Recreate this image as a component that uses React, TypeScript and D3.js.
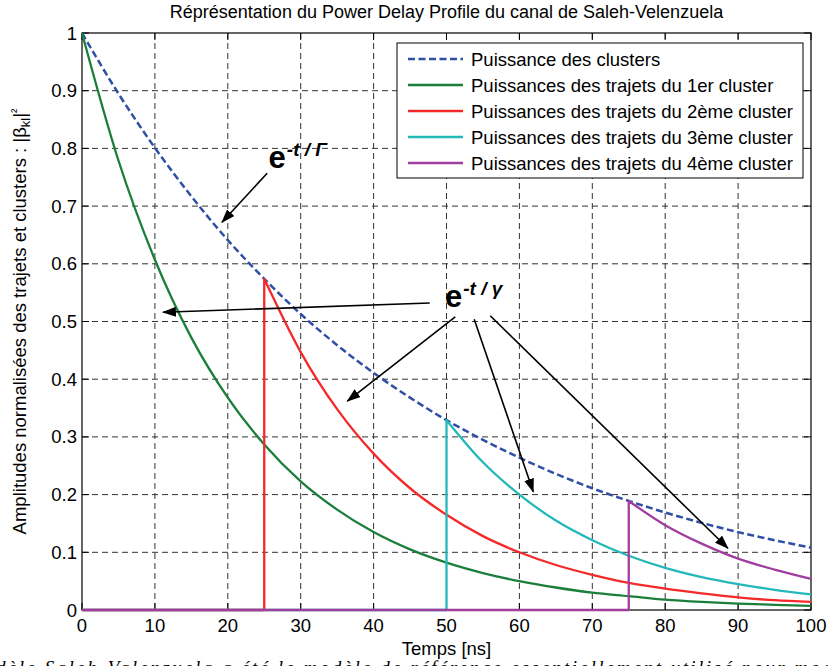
import React from 'react';
import * as d3 from 'd3';

// ---------- data ----------
const T_CLUSTER = [0, 5, 10, 15, 20, 25, 30, 35, 40, 45, 50, 55, 60, 65, 70, 75, 80, 85, 90, 95, 100];
const P_CLUSTER = [1, 0.895, 0.801, 0.717, 0.641, 0.574, 0.513, 0.459, 0.411, 0.368, 0.329, 0.295, 0.264, 0.236, 0.211, 0.189, 0.169, 0.151, 0.135, 0.121, 0.108];

const T_PATH1 = [0, 5, 10, 15, 20, 25, 30, 35, 40, 45, 50, 55, 60, 65, 70, 75, 80, 85, 90, 95, 100];
const P_PATH1 = [1, 0.779, 0.607, 0.472, 0.368, 0.287, 0.223, 0.174, 0.135, 0.105, 0.082, 0.064, 0.05, 0.039, 0.03, 0.024, 0.018, 0.014, 0.011, 0.009, 0.007];

const T_PATH2 = [25, 30, 35, 40, 45, 50, 55, 60, 65, 70, 75, 80, 85, 90, 95, 100];
const P_PATH2 = [0.574, 0.447, 0.348, 0.271, 0.211, 0.165, 0.128, 0.1, 0.078, 0.061, 0.047, 0.037, 0.029, 0.022, 0.017, 0.014];

const T_PATH3 = [50, 55, 60, 65, 70, 75, 80, 85, 90, 95, 100];
const P_PATH3 = [0.329, 0.256, 0.2, 0.155, 0.121, 0.094, 0.073, 0.057, 0.045, 0.035, 0.027];

const T_PATH4 = [75, 80, 85, 90, 95, 100];
const P_PATH4 = [0.189, 0.147, 0.115, 0.089, 0.07, 0.054];

const X_TICKS = [0, 10, 20, 30, 40, 50, 60, 70, 80, 90, 100];
const Y_TICKS = [0, 0.1, 0.2, 0.3, 0.4, 0.5, 0.6, 0.7, 0.8, 0.9, 1];
const Y_TICK_LABELS = ['0', '0.1', '0.2', '0.3', '0.4', '0.5', '0.6', '0.7', '0.8', '0.9', '1'];

const LEGEND_LABELS = [
  'Puissance des clusters',
  'Puissances des trajets du 1er cluster',
  'Puissances des trajets du 2ème cluster',
  'Puissances des trajets du 3ème cluster',
  'Puissances des trajets du 4ème cluster',
];

const TITLE = 'Réprésentation du Power Delay Profile du canal de Saleh-Velenzuela';
const X_LABEL = 'Temps [ns]';
const Y_LABEL = 'Amplitudes normalisées des trajets et clusters : |β';
const CAPTION = "dèle Saleh-Valenzuela a été le modèle de référence essentiellement utilisé pour mod";

// annotation anchors in data units
const ANN_GAMMA_CAP = { x: 25.6, y: 0.766 };
const ARROW_GAMMA_CAP = [{ x1: 25.4, y1: 0.757, x2: 19.2, y2: 0.672 }];
const ANN_GAMMA = { x: 49.8, y: 0.525 };
const ARROWS_GAMMA = [
  { x1: 47.7, y1: 0.532, x2: 11.1, y2: 0.516 },
  { x1: 51.2, y1: 0.508, x2: 36.4, y2: 0.362 },
  { x1: 53.8, y1: 0.504, x2: 61.9, y2: 0.205 },
  { x1: 56.0, y1: 0.51, x2: 88.6, y2: 0.107 },
];

// ---------- layout & style ----------
const W = 828;
const H = 666;
const L = 82, R = 811, T = 33, B = 610;
const FONT = '"Liberation Sans", Arial, Helvetica, sans-serif';
const COLORS = ['#2f4fa6', '#1b7f3b', '#f42a2a', '#24b8b8', '#a03ea0'];

export default function App() {
  const x = d3.scaleLinear().domain([0, 100]).range([L, R]);
  const y = d3.scaleLinear().domain([0, 1]).range([B, T]);

  const lin = d3.line<[number, number]>().x(d => x(d[0])).y(d => y(d[1]));
  const mono = d3.line<[number, number]>().x(d => x(d[0])).y(d => y(d[1])).curve(d3.curveMonotoneX);

  const zip = (ts: number[], vs: number[]) => ts.map((t, i) => [t, vs[i]] as [number, number]);
  const withOnset = (ts: number[], vs: number[]) => {
    const pre = lin([[0, 0], [ts[0], 0]]) || '';
    const dec = (mono(zip(ts, vs)) || '').replace(/^M/, 'L');
    return pre + dec;
  };

  const paths = [
    mono(zip(T_CLUSTER, P_CLUSTER)) || '',
    mono(zip(T_PATH1, P_PATH1)) || '',
    withOnset(T_PATH2, P_PATH2),
    withOnset(T_PATH3, P_PATH3),
    withOnset(T_PATH4, P_PATH4),
  ];

  const tickLen = 7;
  const legX = 397, legY = 43, legW = 406, legH = 135;
  const rowY = [59, 85, 111, 137, 163];

  return (
    <svg width={W} height={H} style={{ position: 'absolute', left: 0, top: 0, background: '#fff' }} fontFamily={FONT}>
      <defs>
        <marker id="ah" viewBox="0 0 14 10" refX="13" refY="5" markerWidth="14" markerHeight="10" markerUnits="userSpaceOnUse" orient="auto">
          <path d="M0,0 L14,5 L0,10 z" fill="#000" />
        </marker>
      </defs>
      <rect x={0} y={0} width={W} height={H} fill="#fff" />

      {/* grid */}
      {X_TICKS.filter(t => t > 0 && t < 100).map(t => (
        <line key={'gx' + t} x1={x(t)} x2={x(t)} y1={T} y2={B} stroke="#333" strokeWidth={1} strokeDasharray="6,4" />
      ))}
      {Y_TICKS.filter(t => t > 0 && t < 1).map(t => (
        <line key={'gy' + t} x1={L} x2={R} y1={y(t)} y2={y(t)} stroke="#333" strokeWidth={1} strokeDasharray="6,4" />
      ))}

      {/* ticks */}
      {X_TICKS.map(t => (
        <g key={'tx' + t}>
          <line x1={x(t)} x2={x(t)} y1={B} y2={B - tickLen} stroke="#000" />
          <line x1={x(t)} x2={x(t)} y1={T} y2={T + tickLen} stroke="#000" />
          <text x={x(t)} y={632} fontSize={18.5} textAnchor="middle" fill="#000">{t}</text>
        </g>
      ))}
      {Y_TICKS.map((t, i) => (
        <g key={'ty' + t}>
          <line x1={L} x2={L + tickLen} y1={y(t)} y2={y(t)} stroke="#000" />
          <line x1={R} x2={R - tickLen} y1={y(t)} y2={y(t)} stroke="#000" />
          <text x={77} y={y(t) + 6.5} fontSize={18.5} textAnchor="end" fill="#000">{Y_TICK_LABELS[i]}</text>
        </g>
      ))}

      {/* frame */}
      <rect x={L} y={T} width={R - L} height={B - T} fill="none" stroke="#000" strokeWidth={1.2} />

      {/* data */}
      {paths.map((p, i) => (
        <path key={'p' + i} d={p} fill="none" stroke={COLORS[i]} strokeWidth={i === 0 ? 2.5 : 2.3}
          strokeDasharray={i === 0 ? '7,3.5' : undefined} strokeLinejoin="round" />
      ))}

      {/* annotations */}
      {[...ARROW_GAMMA_CAP, ...ARROWS_GAMMA].map((a, i) => (
        <line key={'a' + i} x1={x(a.x1)} y1={y(a.y1)} x2={x(a.x2)} y2={y(a.y2)} stroke="#000" strokeWidth={1.6} markerEnd="url(#ah)" />
      ))}
      <text x={x(ANN_GAMMA_CAP.x)} y={y(ANN_GAMMA_CAP.y)} fontWeight="bold" fill="#000">
        <tspan fontSize={31}>e</tspan>
        <tspan fontSize={19} fontStyle="italic" dx={1} dy={-12}>-t / Γ</tspan>
      </text>
      <text x={x(ANN_GAMMA.x)} y={y(ANN_GAMMA.y)} fontWeight="bold" fill="#000">
        <tspan fontSize={31}>e</tspan>
        <tspan fontSize={19} fontStyle="italic" dx={1} dy={-12}>-t / γ</tspan>
      </text>

      {/* legend */}
      <rect x={legX} y={legY} width={legW} height={legH} fill="#fff" stroke="#000" strokeWidth={1} />
      {LEGEND_LABELS.map((lab, i) => (
        <g key={'l' + i}>
          <line x1={408} x2={463} y1={rowY[i]} y2={rowY[i]} stroke={COLORS[i]} strokeWidth={i === 0 ? 2.5 : 2.3}
            strokeDasharray={i === 0 ? '7,3.5' : undefined} />
          <text x={471} y={rowY[i] + 6.5} fontSize={18.5} fill="#000">{lab}</text>
        </g>
      ))}

      {/* titles */}
      <text x={(L + R) / 2} y={18} fontSize={18} textAnchor="middle" fill="#000">{TITLE}</text>
      <text x={(L + R) / 2} y={655} fontSize={18.5} textAnchor="middle" fill="#000">{X_LABEL}</text>
      <text transform={`translate(26, ${(T + B) / 2}) rotate(-90)`} fontSize={18.5} textAnchor="middle" fill="#000">
        {Y_LABEL}<tspan fontSize={13} dy={4}>kl</tspan><tspan dy={-4}>|</tspan><tspan fontSize={13} dy={-6}>²</tspan>
      </text>

      {/* cut caption */}
      <text x={-4} y={674} fontSize={19} fontStyle="italic" fontFamily='"Liberation Serif", "Times New Roman", serif'
        textLength={836} lengthAdjust="spacing" fill="#000">{CAPTION}</text>
    </svg>
  );
}
